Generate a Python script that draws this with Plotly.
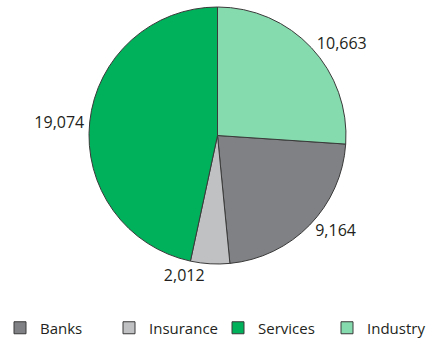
import plotly.graph_objects as go

labels = ["Banks", "Insurance", "Services", "Industry"]
values = [9164, 2012, 19074, 10663]
colors = ["#808184", "#c0c1c3", "#00b15b", "#86dbae"]

total = sum(values)
start_angle = 360.0 * values[-1] / total  # Industry ends at 12 o'clock

W, H = 448, 346
cx, cy, r = 217.5, 135.5, 128.5
FONT = "Open Sans, Noto Sans, sans-serif"

fig = go.Figure(go.Pie(
    labels=labels,
    values=values,
    sort=False,
    direction="clockwise",
    rotation=start_angle,
    marker=dict(colors=colors, line=dict(color="#3a3a3a", width=1)),
    textinfo="value",
    texttemplate="%{value:,}",
    textposition="outside",
    textfont=dict(family=FONT, size=16, color="#231f20"),
    domain=dict(x=[(cx - r) / W, (cx + r) / W], y=[1 - (cy + r) / H, 1 - (cy - r) / H]),
    hoverinfo="none",
))

fig.update_layout(
    width=W, height=H,
    margin=dict(l=0, r=0, t=0, b=0),
    paper_bgcolor="white",
    plot_bgcolor="white",
    showlegend=True,
    legend=dict(
        orientation="h",
        x=0, xanchor="left",
        y=1 - 328 / H, yanchor="middle",
        font=dict(family=FONT, size=15, color="#231f20"),
        entrywidth=64,
        traceorder="normal",
    ),
)

fig.write_html("out.html")
